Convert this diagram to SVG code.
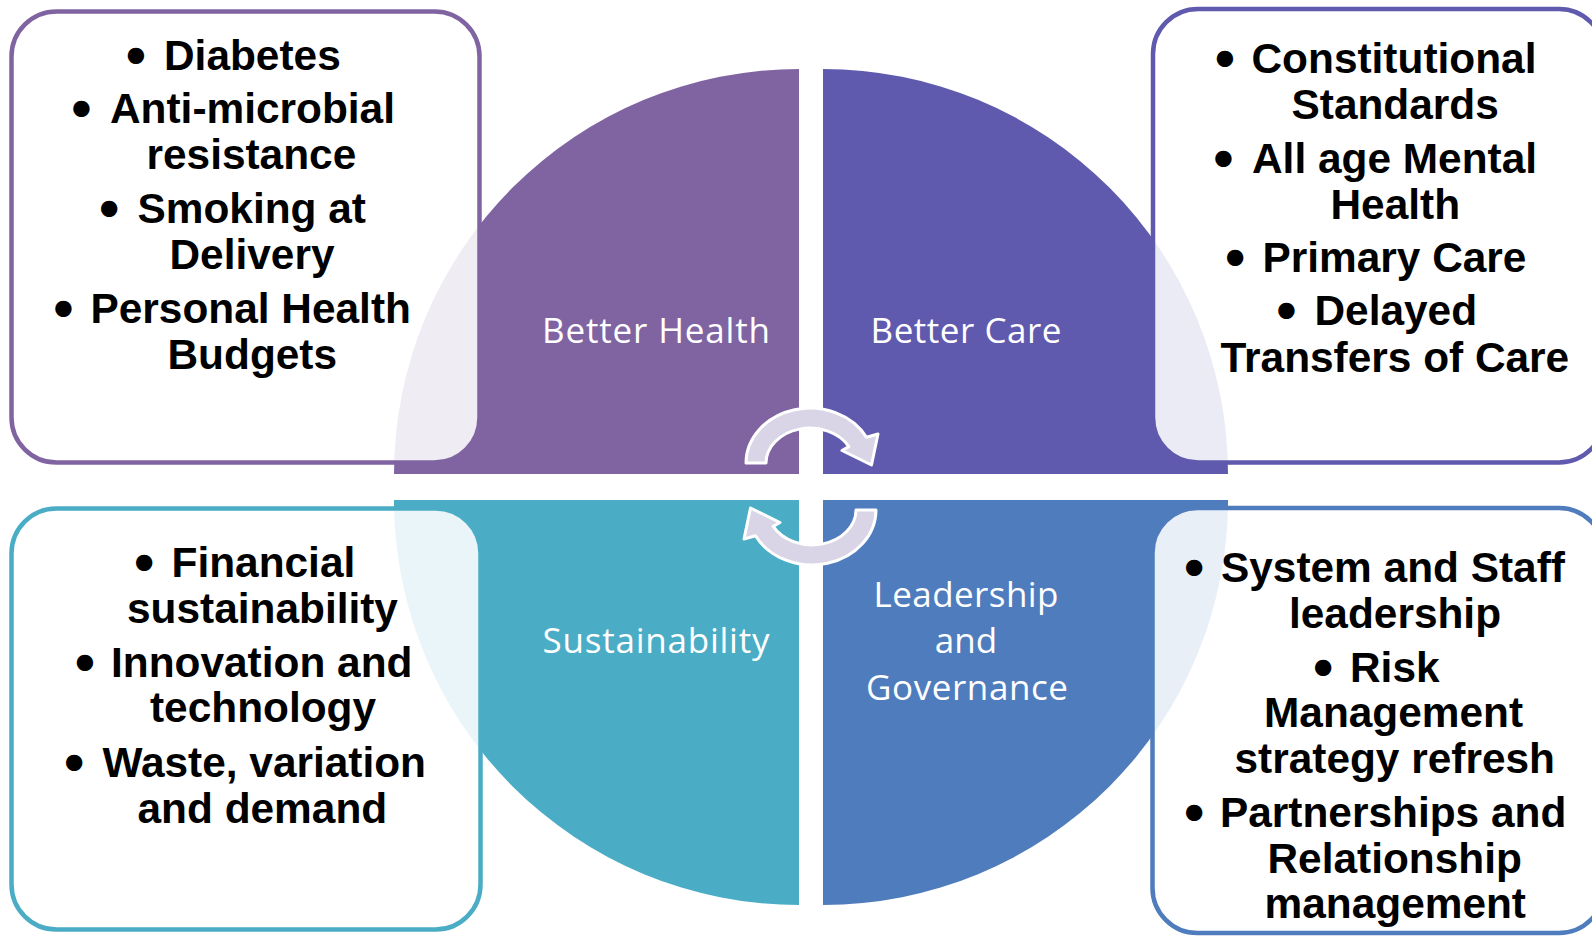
<svg xmlns="http://www.w3.org/2000/svg" width="1592" height="936" viewBox="0 0 1592 936">
  <style>
    .t { font-family: "Liberation Sans", Arial, sans-serif; font-weight: bold; font-size: 42.4px; fill: #000; }
    .b { stroke: #000; stroke-width: 4.2px; stroke-linejoin: round; }
    .q { font-family: "Open Sans", "Noto Sans", sans-serif; font-size: 35px; fill: #fff; text-anchor: middle; }
    .box { fill: #fff; fill-opacity: 0.88; stroke-width: 4.5; }
    .arrow { fill: #D9D5E6; stroke: #fff; stroke-width: 3; stroke-linejoin: round; }
  </style>
  <defs>
    <path id="cyc" class="arrow" d="M746,463 A64,55 0 0 1 866.5,437.2 L878,434 L871.5,465 L842,450.5 L848.8,446.6 A44,35 0 0 0 766,463 Z"/>
  </defs>
  <rect width="1592" height="936" fill="#fff"/>

  <g id="quadrant-better-health">
    <path d="M799,474 L394,474 A405,405 0 0 1 799,69 Z" fill="#8064A2"/>
    <text class="q" x="656" y="343" textLength="228">Better Health</text>
  </g>
  <g id="quadrant-better-care">
    <path d="M823,474 L823,69 A405,405 0 0 1 1228,474 Z" fill="#5F5AAD"/>
    <text class="q" x="966" y="343" textLength="191">Better Care</text>
  </g>
  <g id="quadrant-sustainability">
    <path d="M799,500 L799,905 A405,405 0 0 1 394,500 Z" fill="#4BACC6"/>
    <text class="q" x="656" y="653" textLength="227">Sustainability</text>
  </g>
  <g id="quadrant-leadership">
    <path d="M823,500 L1228,500 A405,405 0 0 1 823,905 Z" fill="#4F7CBC"/>
    <text class="q" x="966" y="607" textLength="185">Leadership</text>
    <text class="q" x="966" y="653">and</text>
    <text class="q" x="967" y="700" textLength="202">Governance</text>
  </g>

  <g id="box-better-health">
    <rect class="box" x="11.5" y="11.5" width="468" height="451" rx="45" stroke="#8064A2"/>
    <text class="t" y="70"><tspan class="b" x="128.4">•</tspan><tspan x="164">Diabetes</tspan></text>
    <text class="t" y="123.3"><tspan class="b" x="74.1">•</tspan><tspan x="110">Anti-microbial</tspan><tspan x="146.5" y="169">resistance</tspan></text>
    <text class="t" y="222.7"><tspan class="b" x="101.8">•</tspan><tspan x="137.5">Smoking at</tspan><tspan x="169.5" y="269.3">Delivery</tspan></text>
    <text class="t" y="323.3"><tspan class="b" x="56.1">•</tspan><tspan x="90.5">Personal Health</tspan><tspan x="167.5" y="369.3">Budgets</tspan></text>
  </g>

  <g id="box-better-care">
    <rect class="box" x="1153" y="9" width="451" height="453.5" rx="45" stroke="#5F5AAD"/>
    <text class="t" y="73.3"><tspan class="b" x="1217.4">•</tspan><tspan x="1251.5">Constitutional</tspan><tspan x="1291.5" y="119.3">Standards</tspan></text>
    <text class="t" y="173.3"><tspan class="b" x="1215.9">•</tspan><tspan x="1252">All age Mental</tspan><tspan x="1330.5" y="219.3">Health</tspan></text>
    <text class="t" y="271.7"><tspan class="b" x="1227.8">•</tspan><tspan x="1262.5">Primary Care</tspan></text>
    <text class="t" y="325"><tspan class="b" x="1279.1">•</tspan><tspan x="1314.5">Delayed</tspan><tspan x="1220.5" y="371.7">Transfers of Care</tspan></text>
  </g>

  <g id="box-sustainability">
    <rect class="box" x="11.5" y="508.5" width="469" height="421" rx="45" stroke="#4BACC6"/>
    <text class="t" y="577.3"><tspan class="b" x="136.8">•</tspan><tspan x="171.5">Financial</tspan><tspan x="127" y="622.7">sustainability</tspan></text>
    <text class="t" y="676.7"><tspan class="b" x="77.4">•</tspan><tspan x="111">Innovation and</tspan><tspan x="150" y="721.7">technology</tspan></text>
    <text class="t" y="776.7"><tspan class="b" x="66.8">•</tspan><tspan x="102.5">Waste, variation</tspan><tspan x="137.5" y="822.7">and demand</tspan></text>
  </g>

  <g id="box-leadership">
    <rect class="box" x="1152.5" y="508" width="451.5" height="425" rx="45" stroke="#4F7CBC"/>
    <text class="t" y="581.7"><tspan class="b" x="1186.8">•</tspan><tspan x="1221">System and Staff</tspan><tspan x="1289" y="628.3">leadership</tspan></text>
    <text class="t" y="681.7"><tspan class="b" x="1315.8">•</tspan><tspan x="1350">Risk</tspan><tspan x="1264" y="727.3">Management</tspan><tspan x="1234.5" y="773.3">strategy refresh</tspan></text>
    <text class="t" y="826.7"><tspan class="b" x="1186.8">•</tspan><tspan x="1220">Partnerships and</tspan><tspan x="1267.5" y="872.7">Relationship</tspan><tspan x="1264.5" y="918.3">management</tspan></text>
  </g>

  <g id="connectors">
    <use href="#cyc"/>
    <use href="#cyc" transform="rotate(180 811 486.5)"/>
  </g>
</svg>
